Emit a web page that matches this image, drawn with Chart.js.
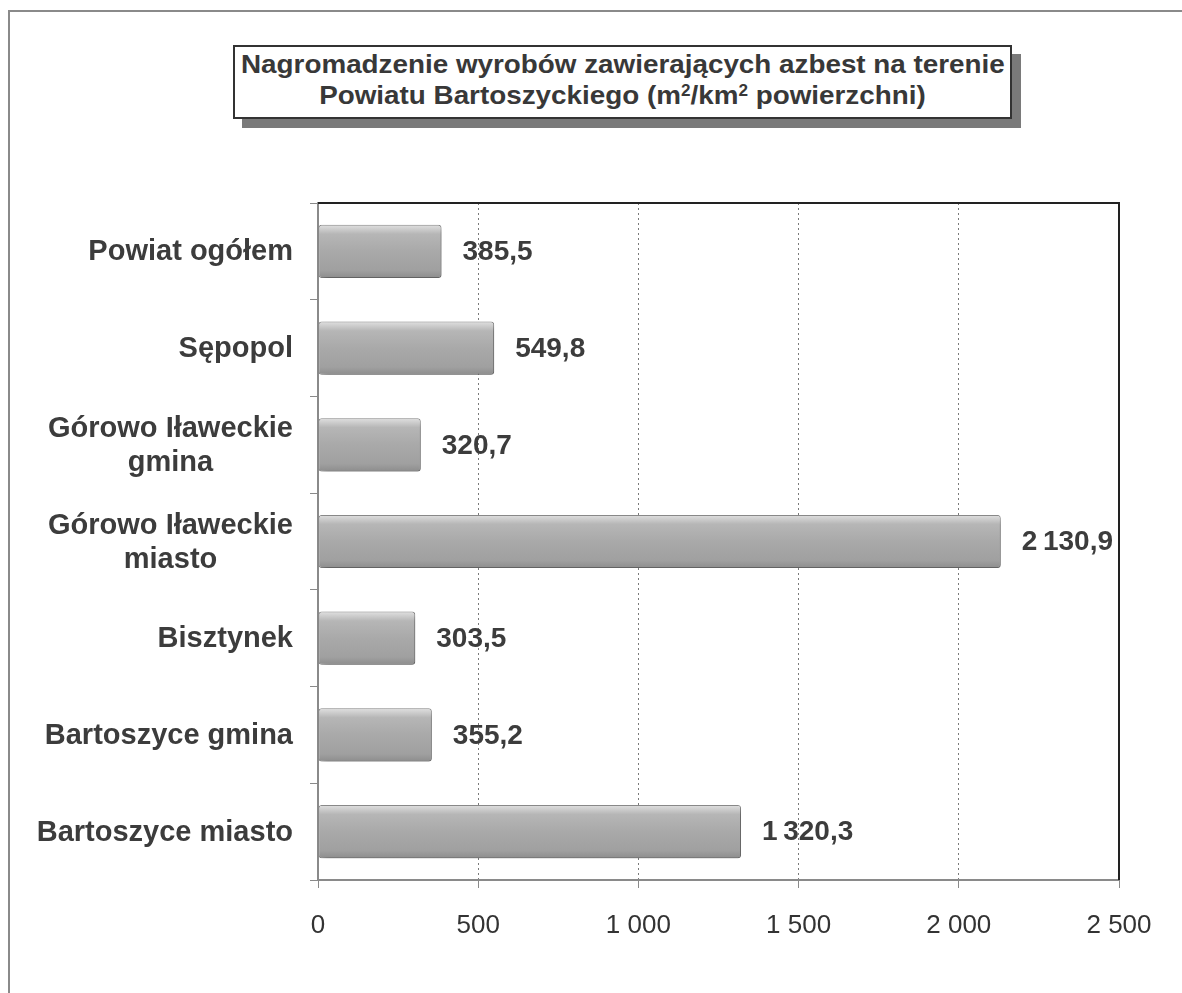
<!DOCTYPE html>
<html>
<head>
<meta charset="utf-8">
<script src="https://cdn.jsdelivr.net/npm/chart.js@4.4.1/dist/chart.umd.min.js"></script>
<style>
  html, body { margin: 0; padding: 0; background: #fff; }
  body { width: 1182px; height: 993px; position: relative; overflow: hidden; font-family: "Liberation Sans", Arial, sans-serif; }
  #frame { position: absolute; left: 8px; top: 10px; width: 1200px; height: 1000px; border-left: 2px solid #8a8a8a; border-top: 2px solid #8a8a8a; }
  #title {
    position: absolute; left: 233px; top: 45px; width: 775px; height: 68px;
    border: 2px solid #333; background: #fff; box-shadow: 9px 9px 0 #7a7a7a;
    color: #383838; font-weight: bold; font-size: 26px; line-height: 31px; text-align: center;
    padding-top: 2px; box-sizing: content-box; white-space: nowrap;
  }
  #title span { display: inline-block; transform: scaleX(1.07); transform-origin: center; }
  #title sup { font-size: 16px; line-height: 0; vertical-align: 8px; }
  #wrap { position: absolute; left: 0; top: 0; width: 1182px; height: 993px; }
</style>
</head>
<body>
<div id="frame"></div>
<div id="title"><span>Nagromadzenie wyrobów zawierających azbest na terenie</span><br><span>Powiatu Bartoszyckiego (m<sup>2</sup>/km<sup>2</sup> powierzchni)</span></div>
<div id="wrap"><canvas id="chart" width="1182" height="993"></canvas></div>
<script>
const categories = [
  'Powiat ogółem',
  'Sępopol',
  ['Górowo Iławeckie', 'gmina'],
  ['Górowo Iławeckie', 'miasto'],
  'Bisztynek',
  'Bartoszyce gmina',
  'Bartoszyce miasto'
];
const values = [385.5, 549.8, 320.7, 2130.9, 303.5, 355.2, 1320.3];
const xTicks = [0, 500, 1000, 1500, 2000, 2500];

const FONT = '"Liberation Sans", Arial, sans-serif';

// polish number format: "2 130,9"
function fmt(v, dec, sep) {
  const parts = v.toFixed(dec).split('.');
  const int = parts[0].replace(/\B(?=(\d{3})+(?!\d))/g, sep);
  return parts.length > 1 ? int + ',' + parts[1] : int;
}

function barFill(ctx) {
  const chart = ctx.chart;
  const y = chart.scales.y;
  if (!y || ctx.dataIndex === undefined) return '#aaa';
  const c = y.getPixelForValue(ctx.dataIndex);
  if (!isFinite(c)) return '#aaa';
  const h = 54;
  const g = chart.ctx.createLinearGradient(0, c - h / 2, 0, c + h / 2);
  g.addColorStop(0, '#e2e2e2');
  g.addColorStop(0.18, '#b6b6b6');
  g.addColorStop(0.5, '#a9a9a9');
  g.addColorStop(0.85, '#a0a0a0');
  g.addColorStop(1, '#8c8c8c');
  return g;
}

const barShadow = {
  id: 'barShadow',
  beforeDatasetsDraw(chart) {
    const c = chart.ctx;
    c.save();
    c.shadowColor = 'rgba(0,0,0,0.35)';
    c.shadowBlur = 6;
    c.shadowOffsetX = 3;
    c.shadowOffsetY = 4;
  },
  afterDatasetsDraw(chart) {
    chart.ctx.restore();
  }
};

const valueLabels = {
  id: 'valueLabels',
  afterDatasetsDraw(chart) {
    const c = chart.ctx;
    const meta = chart.getDatasetMeta(0);
    c.save();
    c.font = 'bold 28px ' + FONT;
    c.fillStyle = '#3c3c3c';
    c.textAlign = 'left';
    c.textBaseline = 'middle';
    meta.data.forEach((bar, i) => {
      c.fillText(fmt(values[i], 1, '\u2009'), bar.x + 21, bar.y + 1);
    });
    c.restore();
  }
};

// category labels: right aligned, extra lines centred under the first
const catLabels = {
  id: 'catLabels',
  afterDraw(chart) {
    const c = chart.ctx;
    const y = chart.scales.y;
    const right = 293;
    const lh = 34;
    c.save();
    c.font = 'bold 29px ' + FONT;
    c.fillStyle = '#3c3c3c';
    c.textBaseline = 'middle';
    c.textAlign = 'center';
    categories.forEach((lab, i) => {
      const lines = Array.isArray(lab) ? lab : [lab];
      const w = Math.max(...lines.map(s => c.measureText(s).width));
      const cy = y.getPixelForValue(i);
      lines.forEach((s, k) => {
        c.fillText(s, right - w / 2, cy + 1 + (k - (lines.length - 1) / 2) * lh);
      });
    });
    c.restore();
  }
};

const plotFrame = {
  id: 'plotFrame',
  afterDraw(chart) {
    const a = chart.chartArea;
    const c = chart.ctx;
    c.save();
    c.strokeStyle = '#222';
    c.lineWidth = 2;
    c.beginPath();
    c.moveTo(a.left, a.top);
    c.lineTo(a.right, a.top);
    c.lineTo(a.right, a.bottom);
    c.stroke();
    c.restore();
  }
};

new Chart(document.getElementById('chart'), {
  type: 'bar',
  plugins: [barShadow, valueLabels, catLabels, plotFrame],
  data: {
    labels: categories,
    datasets: [{
      data: values,
      backgroundColor: barFill,
      borderColor: '#8c8c8c',
      borderWidth: 1,
      borderRadius: 3,
      borderSkipped: false,
      categoryPercentage: 1,
      barPercentage: 0.55
    }]
  },
  options: {
    indexAxis: 'y',
    responsive: false,
    animation: false,
    devicePixelRatio: 1,
    layout: { padding: { left: 0, top: 203, right: 63, bottom: 0 } },
    plugins: { legend: { display: false }, tooltip: { enabled: false } },
    scales: {
      x: {
        min: 0,
        max: 2500,
        afterBuildTicks(axis) { axis.ticks = xTicks.map(v => ({ value: v })); },
        afterFit(axis) { axis.height = 113; },
        border: { display: true, color: '#8a8a8a', width: 2, dash: [2, 3] },
        grid: {
          color: '#7a7a7a',
          lineWidth: 1,
          tickBorderDash: [],
          tickColor: '#8a8a8a',
          tickLength: 8
        },
        ticks: {
          padding: 22,
          color: '#333',
          font: { family: FONT, size: 26 },
          callback: v => fmt(v, 0, '\u00a0')
        }
      },
      y: {
        afterFit(axis) { axis.width = 318; },
        border: { display: true, color: '#8a8a8a', width: 2 },
        grid: {
          drawOnChartArea: false,
          color: '#8a8a8a',
          tickLength: 8
        },
        ticks: {
          display: false
        }
      }
    }
  }
});
</script>
</body>
</html>
